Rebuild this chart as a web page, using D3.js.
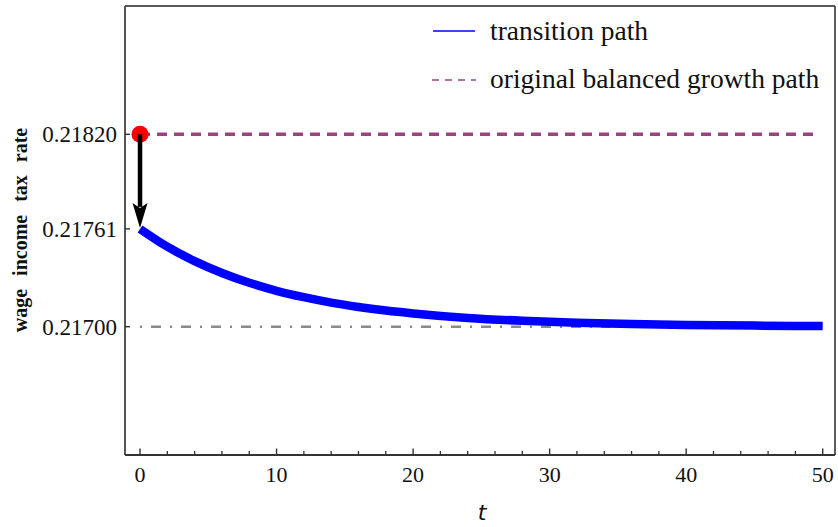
<!DOCTYPE html>
<html>
<head>
<meta charset="utf-8">
<script src="https://cdn.jsdelivr.net/npm/d3@7"></script>
<style>
  html, body { margin: 0; padding: 0; background: #fff; }
  svg { display: block; }
  text { font-family: "Liberation Serif", "DejaVu Serif", serif; fill: #111; }
</style>
</head>
<body>
<svg id="chart" width="838" height="527"></svg>
<script>
// Transition path of the wage income tax rate after the policy change
const pathT    = [0, 2, 4, 6, 8, 10, 12, 14, 16, 18, 20, 24, 28, 32, 36, 40, 45, 50];
const pathRate = [0.217610, 0.217499, 0.217409, 0.217335, 0.217274, 0.217224, 0.217184,
                  0.217150, 0.217123, 0.217101, 0.217083, 0.217055, 0.217037, 0.217025,
                  0.217017, 0.217011, 0.217007, 0.217004];

// Reference levels
const originalRate = 0.21820;   // original balanced growth path
const newRate      = 0.21700;   // new balanced growth path
const jumpRate     = 0.21761;   // rate right after the jump at t = 0
const tRange       = [0, 50];

// Axis ticks
const xTicks      = [0, 10, 20, 30, 40, 50];
const xMinorTicks = d3.range(0, 51, 2);
const yTicks      = [0.21820, 0.21761, 0.21700];
const yTickLabels = ["0.21820", "0.21761", "0.21700"];

const legendLabels = ["transition path", "original balanced growth path"];

const svg = d3.select("#chart");
const plot = { left: 125, right: 835, top: 6, bottom: 455 };

const x = d3.scaleLinear().domain([-1.1, 50.9]).range([plot.left, plot.right]);
const y = d3.scaleLinear().domain([0.2162, 0.2190]).range([plot.bottom, plot.top]);

// ---- reference lines ----
svg.append("line")
  .attr("x1", x(tRange[0])).attr("x2", x(tRange[1]))
  .attr("y1", y(newRate)).attr("y2", y(newRate))
  .attr("stroke", "#8a8a8a").attr("stroke-width", 2.6)
  .attr("stroke-dasharray", "2,9,10,9");

svg.append("line")
  .attr("x1", x(tRange[0])).attr("x2", x(tRange[1]) - 3)
  .attr("y1", y(originalRate)).attr("y2", y(originalRate))
  .attr("stroke", "#9b437e").attr("stroke-width", 3.5)
  .attr("stroke-dasharray", "10,7");

// ---- transition path ----
const line = d3.line()
  .x((d, i) => x(pathT[i]))
  .y(d => y(d))
  .curve(d3.curveMonotoneX);

svg.append("path")
  .datum(pathRate)
  .attr("d", line)
  .attr("fill", "none")
  .attr("stroke", "#0000ff")
  .attr("stroke-width", 8.5)
  .attr("stroke-linecap", "butt");

// ---- starting point and jump arrow ----
svg.append("circle")
  .attr("cx", x(0)).attr("cy", y(originalRate)).attr("r", 8.5)
  .attr("fill", "#ff0000");

const ax = x(0), ay0 = y(originalRate), ay1 = y(jumpRate) - 1;
const headLen = 25, headHalf = 7.5;
svg.append("line")
  .attr("x1", ax).attr("x2", ax)
  .attr("y1", ay0).attr("y2", ay1 - headLen + 4)
  .attr("stroke", "#000").attr("stroke-width", 4.5);
svg.append("path")
  .attr("d", `M${ax},${ay1} L${ax - headHalf},${ay1 - headLen} L${ax},${ay1 - headLen + 5} L${ax + headHalf},${ay1 - headLen} Z`)
  .attr("fill", "#000");

// ---- frame ----
const frame = svg.append("g");
frame.append("line").attr("x1", plot.left).attr("x2", plot.right)
  .attr("y1", plot.top).attr("y2", plot.top).attr("stroke", "#222").attr("stroke-width", 1.6);
frame.append("line").attr("x1", plot.right).attr("x2", plot.right)
  .attr("y1", plot.top).attr("y2", plot.bottom).attr("stroke", "#333").attr("stroke-width", 1.6);
frame.append("line").attr("x1", plot.left).attr("x2", plot.left)
  .attr("y1", plot.top).attr("y2", plot.bottom).attr("stroke", "#555").attr("stroke-width", 2);
frame.append("line").attr("x1", plot.left).attr("x2", plot.right)
  .attr("y1", plot.bottom).attr("y2", plot.bottom).attr("stroke", "#333").attr("stroke-width", 2);

// bottom axis: inward ticks with minor ticks every 2 units
const xAxis = svg.append("g");
xAxis.selectAll("line.minor").data(xMinorTicks.filter(d => d % 10 !== 0)).join("line")
  .attr("x1", d => x(d)).attr("x2", d => x(d))
  .attr("y1", plot.bottom).attr("y2", plot.bottom - 4)
  .attr("stroke", "#333").attr("stroke-width", 1.3);
xAxis.selectAll("line.major").data(xTicks).join("line")
  .attr("x1", d => x(d)).attr("x2", d => x(d))
  .attr("y1", plot.bottom).attr("y2", plot.bottom - 6.5)
  .attr("stroke", "#333").attr("stroke-width", 1.4);
xAxis.selectAll("text").data(xTicks).join("text")
  .attr("x", d => x(d)).attr("y", 482)
  .attr("text-anchor", "middle")
  .attr("font-size", 22)
  .text(d => d);

// left axis: inward ticks at the labelled levels
const yAxis = svg.append("g");
yAxis.selectAll("line").data(yTicks).join("line")
  .attr("x1", plot.left).attr("x2", plot.left + 5)
  .attr("y1", d => y(d)).attr("y2", d => y(d))
  .attr("stroke", "#333").attr("stroke-width", 1.4);
yAxis.selectAll("text").data(yTicks).join("text")
  .attr("x", 117).attr("y", d => y(d))
  .attr("dy", "0.35em")
  .attr("text-anchor", "end")
  .attr("font-size", 23)
  .text((d, i) => yTickLabels[i]);

// axis titles
svg.append("text")
  .attr("transform", `translate(27,${230}) rotate(-90)`)
  .attr("text-anchor", "middle")
  .attr("font-size", 20)
  .attr("font-weight", "bold")
  .attr("word-spacing", 8)
  .text("wage income tax rate");

svg.append("text")
  .attr("x", 482).attr("y", 520)
  .attr("text-anchor", "middle")
  .attr("font-size", 22)
  .attr("font-style", "italic")
  .style("font-family", "'DejaVu Sans', sans-serif")
  .text("t");

// ---- legend ----
const legend = svg.append("g");
legend.append("line")
  .attr("x1", 433).attr("x2", 475).attr("y1", 31).attr("y2", 31)
  .attr("stroke", "#0000ff").attr("stroke-width", 1.5);
legend.append("line")
  .attr("x1", 432).attr("x2", 476).attr("y1", 80).attr("y2", 80)
  .attr("stroke", "#9b437e").attr("stroke-width", 1.5)
  .attr("stroke-dasharray", "7,6");
legend.selectAll("text").data(legendLabels).join("text")
  .attr("x", 490).attr("y", (d, i) => 40 + i * 48)
  .attr("font-size", 27.5)
  .text(d => d);
</script>
</body>
</html>
